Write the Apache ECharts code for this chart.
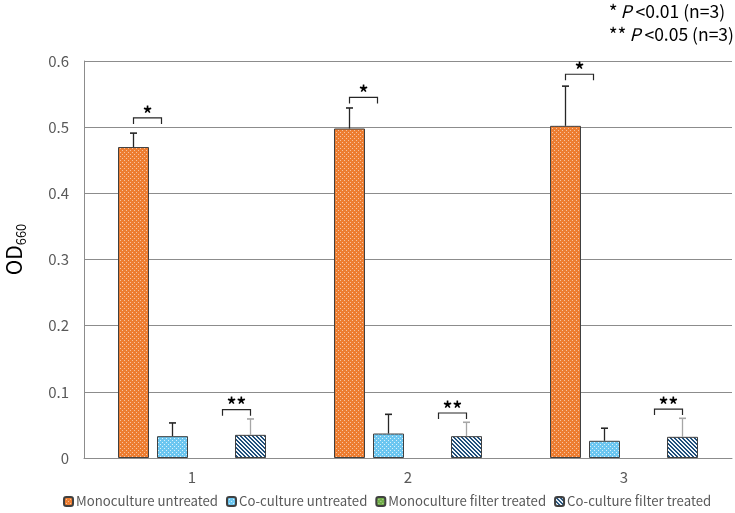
<!DOCTYPE html>
<html lang="en">
<head>
    <meta charset="UTF-8">
    <title>OD660 bar chart</title>
    <script src="https://cdn.jsdelivr.net/npm/echarts@6/dist/echarts.min.js"></script>
    <style>
        html, body { margin: 0; padding: 0; background: #fff; }
        #chart { width: 735px; height: 513px; }
    </style>
</head>
<body>
<div id="chart"></div>
<script>
    // data
    const categories = ['1', '2', '3'];
    const yTicks = [0, 0.1, 0.2, 0.3, 0.4, 0.5, 0.6];

    const monoUntreated = [0.470, 0.498, 0.502];
    const monoUntreatedSd = [0.021, 0.031, 0.060];
    const coUntreated = [0.033, 0.037, 0.026];
    const coUntreatedSd = [0.020, 0.029, 0.019];
    const monoFilter = [null, null, null];
    const coFilter = [0.035, 0.033, 0.032];
    const coFilterSd = [0.024, 0.021, 0.028];

    // significance brackets (y level of bracket)
    const oneStarLevel = [0.514, 0.545, 0.580];
    const twoStarLevel = [0.073, 0.068, 0.074];

    const seriesNames = ['Monoculture untreated', 'Co-culture untreated',
        'Monoculture filter treated', 'Co-culture filter treated'];

    const FONT = '"Noto Sans CJK JP", "Noto Sans", sans-serif';
    const BAR_W = 31;
    const BAR_GAP = 8;

    function pattern(size, bg, fg, test) {
        const c = document.createElement('canvas');
        c.width = size; c.height = size;
        const ctx = c.getContext('2d');
        ctx.fillStyle = bg;
        ctx.fillRect(0, 0, size, size);
        ctx.fillStyle = fg;
        for (let x = 0; x < size; x++) {
            for (let y = 0; y < size; y++) {
                if (test(x, y)) ctx.fillRect(x, y, 1, 1);
            }
        }
        return { image: c, repeat: 'repeat' };
    }

    const dots = (x, y) => (x === 0 && y === 0) || (x === 2 && y === 2);
    const orangeFill = pattern(4, '#ED7D31', 'rgba(255,255,255,0.55)', dots);
    const blueFill = pattern(4, '#6CC6F0', 'rgba(255,255,255,0.75)', dots);
    const greenFill = pattern(4, '#70AD47', 'rgba(255,255,255,0.55)', dots);
    const hatchFill = pattern(4, '#f2f7fc', '#1F4E79', (x, y) => ((x - y + 8) % 4) < 2);

    function slotX(api, c, slot) {
        return api.coord([c, 0])[0] + (slot - 1.5) * (BAR_W + BAR_GAP);
    }

    function errorBars(slot, means, sds, color) {
        return {
            type: 'custom',
            z: 5,
            silent: true,
            data: means.map((m, i) => [i, m, sds[i]]),
            encode: { x: 0, y: 1 },
            renderItem: function (params, api) {
                const c = api.value(0);
                const m = api.value(1);
                const sd = api.value(2);
                const x = slotX(api, c, slot);
                const y0 = api.coord([c, m])[1];
                const y1 = api.coord([c, m + sd])[1];
                return {
                    type: 'group',
                    children: [
                        { type: 'line', shape: { x1: x, y1: y0, x2: x, y2: y1 }, style: { stroke: color, lineWidth: 1.3 } },
                        { type: 'line', shape: { x1: x - 3.5, y1: y1, x2: x + 3.5, y2: y1 }, style: { stroke: color, lineWidth: 1.6 } }
                    ]
                };
            }
        };
    }

    function brackets(levels, label, fromSlot, toRight) {
        return {
            type: 'custom',
            z: 6,
            silent: true,
            data: levels.map((v, i) => [i, v]),
            encode: { x: 0, y: 1 },
            renderItem: function (params, api) {
                const c = api.value(0);
                const y = api.coord([c, api.value(1)])[1];
                const anchor = slotX(api, c, fromSlot);
                const l = toRight ? anchor : anchor - 28;
                const r = toRight ? anchor + 28 : anchor;
                return {
                    type: 'group',
                    children: [
                        {
                            type: 'polyline',
                            shape: { points: [[l, y + 6], [l, y], [r, y], [r, y + 6]] },
                            style: { stroke: '#262626', lineWidth: 1.2, fill: null }
                        },
                        {
                            type: 'text',
                            style: {
                                text: label, x: (l + r) / 2, y: y + 5,
                                align: 'center', verticalAlign: 'bottom',
                                font: 'bold 19px ' + FONT, fill: '#000'
                            }
                        }
                    ]
                };
            }
        };
    }

    const barBorder = { borderColor: '#404040', borderWidth: 1 };

    const chart = echarts.init(document.getElementById('chart'));
    chart.setOption({
        animation: false,
        textStyle: { fontFamily: FONT },
        grid: { left: 84, right: 3, top: 61, bottom: 55, outerBoundsMode: 'none', containLabel: false },
        legend: {
            data: seriesNames,
            bottom: 0,
            left: 58,
            itemWidth: 9,
            itemHeight: 9,
            itemGap: 8,
            textStyle: { color: '#595959', fontSize: 13.2, fontFamily: FONT, padding: [0, 0, 0, -2] }
        },
        xAxis: {
            type: 'category',
            data: categories,
            axisLine: { lineStyle: { color: '#8c8c8c', width: 1 } },
            axisTick: { show: false },
            axisLabel: { color: '#595959', fontSize: 15, margin: 12 }
        },
        yAxis: {
            type: 'value',
            min: yTicks[0],
            max: yTicks[yTicks.length - 1],
            interval: 0.1,
            name: '{a|OD}{b|660}',
            nameLocation: 'middle',
            nameRotate: 90,
            nameGap: 59,
            nameTextStyle: {
                padding: [0, 0, 0, 20],
                rich: {
                    a: { fontSize: 21, color: '#000', fontFamily: FONT, lineHeight: 26, verticalAlign: 'bottom' },
                    b: { fontSize: 13, color: '#000', fontFamily: FONT, lineHeight: 26, verticalAlign: 'bottom', padding: [0, 0, -3, 0] }
                }
            },
            axisLine: { show: true, lineStyle: { color: '#8c8c8c', width: 1 } },
            axisTick: { show: false },
            axisLabel: { color: '#595959', fontSize: 15, margin: 15 },
            splitLine: { lineStyle: { color: '#8c8c8c', width: 1 } }
        },
        graphic: [{
            type: 'text',
            right: 1,
            top: 2,
            style: {
                text: '{s|*}{p|P}{t| <0.01 (n=3)}\n{s|**}{p|P}{t| <0.05 (n=3)}',
                align: 'right',
                rich: {
                    s: { fontSize: 19, fontFamily: FONT, fill: '#000', lineHeight: 23, padding: [0, 3, 0, 0] },
                    p: { fontSize: 17.5, fontFamily: FONT, fontStyle: 'italic', fill: '#000', lineHeight: 23 },
                    t: { fontSize: 17.5, fontFamily: FONT, fill: '#000', lineHeight: 23 }
                }
            }
        }],
        series: [
            { name: seriesNames[0], type: 'bar', data: monoUntreated, barWidth: BAR_W, barGap: (BAR_GAP / BAR_W * 100) + '%', itemStyle: Object.assign({ color: orangeFill }, barBorder) },
            { name: seriesNames[1], type: 'bar', data: coUntreated, barWidth: BAR_W, itemStyle: Object.assign({ color: blueFill }, barBorder) },
            { name: seriesNames[2], type: 'bar', data: monoFilter, barWidth: BAR_W, itemStyle: Object.assign({ color: greenFill }, barBorder) },
            { name: seriesNames[3], type: 'bar', data: coFilter, barWidth: BAR_W, itemStyle: Object.assign({ color: hatchFill }, barBorder) },
            errorBars(0, monoUntreated, monoUntreatedSd, '#262626'),
            errorBars(1, coUntreated, coUntreatedSd, '#262626'),
            errorBars(3, coFilter, coFilterSd, '#a6a6a6'),
            brackets(oneStarLevel, '*', 0, true),
            brackets(twoStarLevel, '**', 3, false)
        ]
    });
</script>
</body>
</html>
